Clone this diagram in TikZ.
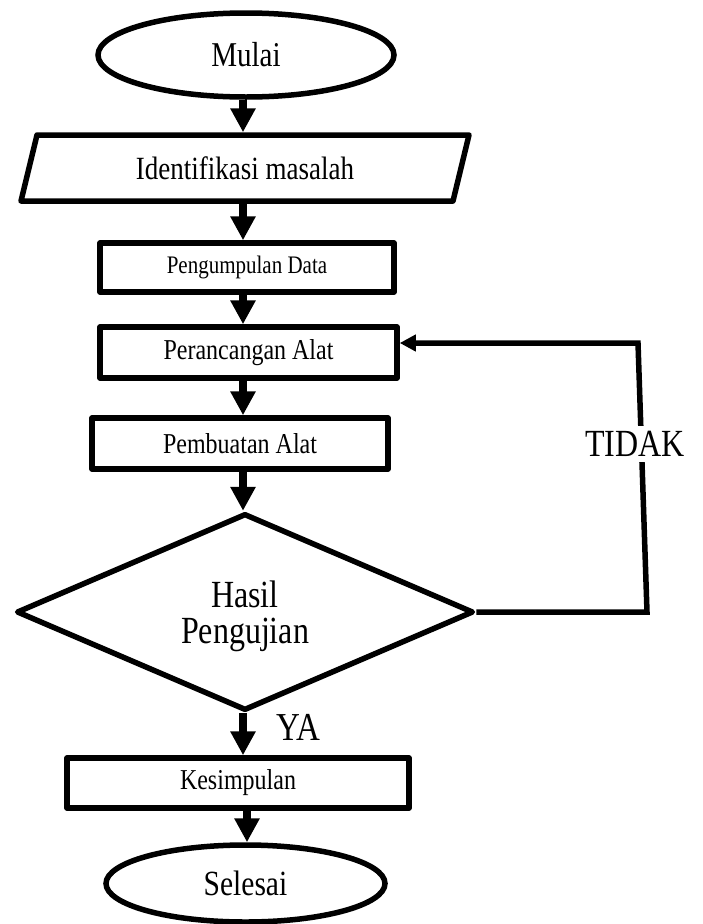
\documentclass[tikz,border=0pt]{standalone}
\usepackage{fontspec}
\usepackage{graphicx}
\setmainfont{Liberation Serif}
\usetikzlibrary{shapes.geometric,arrows.meta}
\newcommand{\tallt}[1]{\scalebox{1}[1.2]{#1}}
\begin{document}
\begin{tikzpicture}[x=1pt,y=-1pt,
  box/.style={draw, line width=5.5pt, rectangle, inner sep=0pt, line join=round},
  term/.style={draw, line width=5.5pt, ellipse, inner sep=0pt},
  flow/.style={line width=8pt, -{Triangle[width=24pt,length=24pt]}},
  back/.style={line width=5.5pt, line join=miter, -{Triangle[width=16pt,length=16pt]}}
  ]
\useasboundingbox (0,0) rectangle (702,924);
\coordinate (col) at (243,0);
\coordinate (col2) at (247,0);

\node[term, minimum width=296pt, minimum height=84pt, font=\fontsize{29}{34}\selectfont] (mulai) at (246,55) {\tallt{Mulai}};

\draw[line width=5.5pt, line join=round] (37,135) -- (469,135) -- (453,201) -- (21,201) -- cycle;
\node[inner sep=0pt, outer sep=2.75pt, minimum width=432pt, minimum height=66pt, font=\fontsize{27}{32}\selectfont] (ident) at (245,168) {\tallt{Identifikasi masalah}};

\node[box, minimum width=294pt, minimum height=49pt, font=\fontsize{21}{25}\selectfont] (kumpul) at (247,267.5) {\tallt{Pengumpulan Data}};
\node[box, minimum width=297pt, minimum height=51pt, font=\fontsize{24}{28}\selectfont] (rancang) at (248.5,352.5) {\tallt{Perancangan Alat}};
\node[box, minimum width=296pt, minimum height=51pt, font=\fontsize{24}{28}\selectfont] (buat) at (240,443.5) {\tallt{Pembuatan Alat}};

\node[draw, diamond, line width=5.5pt, line join=round, aspect=2.32, minimum width=457pt, minimum height=197pt, inner sep=0pt] (hasil) at (245,612) {};
\node[align=center, inner sep=0pt, font=\fontsize{32}{36}\selectfont] (hasiltxt) at (245,616) {\tallt{Hasil}\\\tallt{Pengujian}};

\node[box, minimum width=342pt, minimum height=50pt, font=\fontsize{24}{28}\selectfont] (simpul) at (238,783) {\tallt{Kesimpulan}};
\node[term, minimum width=279pt, minimum height=77pt, font=\fontsize{29.5}{34}\selectfont] (selesai) at (245.5,883.5) {\tallt{Selesai}};

\draw[flow] (mulai.south -| col) -- (ident.north -| col);
\draw[flow] (ident.south -| col) -- (kumpul.north -| col);
\draw[flow] (kumpul.south -| col) -- (rancang.north -| col);
\draw[flow] (rancang.south -| col) -- (buat.north -| col);
\draw[flow] (buat.south -| col) -- (hasil.north -| col);
\draw[flow] (hasil.south -| col) -- (simpul.north -| col);
\draw[flow] (simpul.south -| col2) -- (selesai.north -| col2);

\coordinate (fbbot) at (647,612);
\coordinate (fbtop) at (638,343);
\draw[back] (hasil.east) -- (fbbot) -- (fbtop) -- (fbtop -| rancang.east);
\node[fill=white, inner sep=5pt, font=\fontsize{32}{36}\selectfont] (tidak) at (635,444) {\tallt{TIDAK}};
\node[font=\fontsize{33}{38}\selectfont] (ya) at (298,727) {\tallt{YA}};
\end{tikzpicture}
\end{document}
